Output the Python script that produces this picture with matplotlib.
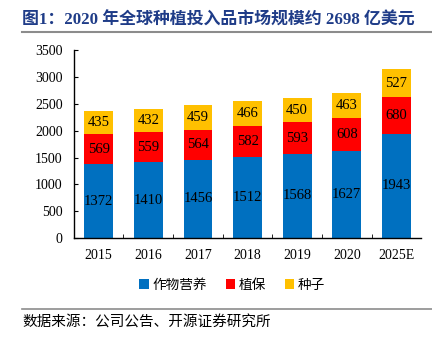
import matplotlib
matplotlib.use("Agg")
import matplotlib.pyplot as plt
from matplotlib.lines import Line2D
import numpy as np

plt.rcParams['font.family'] = ['Liberation Serif', 'Noto Sans CJK SC']

# data
years = ["2015", "2016", "2017", "2018", "2019", "2020", "2025E"]
nutrition = [1372, 1410, 1456, 1512, 1568, 1627, 1943]
protection = [569, 559, 564, 582, 593, 608, 680]
seeds = [435, 432, 459, 466, 450, 463, 527]
series_names = ["作物营养", "植保", "种子"]
colors = ["#0070C0", "#FF0000", "#FFC000"]

fig = plt.figure(figsize=(4.32, 3.4), dpi=100)
ax = fig.add_axes([0.171, 0.30, 0.804, 0.552])

x = np.arange(len(years))
w = 0.58
bottom = np.zeros(len(years))
for vals, name, col in zip([nutrition, protection, seeds], series_names, colors):
    vals = np.array(vals)
    ax.bar(x, vals, w, bottom=bottom, color=col, label=name, edgecolor="none")
    for xi, b, v in zip(x, bottom, vals):
        ax.text(xi, b + v / 2, str(v), ha="center", va="center", fontsize=10.5, color="black")
    bottom = bottom + vals

ax.set_xlim(-0.5, len(years) - 0.5)
ax.set_ylim(0, 3500)
ax.set_yticks(range(0, 3501, 500))
ax.set_xticks(x)
ax.set_xticklabels(years)
ax.set_xticks(np.arange(0.5, len(years) - 1, 1), minor=True)
ax.tick_params(axis="x", which="major", length=0, labelsize=10, pad=8)
ax.tick_params(axis="x", which="minor", direction="in", length=3)
ax.tick_params(axis="y", direction="in", length=3, labelsize=10, pad=8)
for s in ["top", "right"]:
    ax.spines[s].set_visible(False)
for s in ["left", "bottom"]:
    ax.spines[s].set_linewidth(1.0)

ax.legend(loc="center", bbox_to_anchor=(232 / 432, 1 - 285 / 340), bbox_transform=fig.transFigure,
          ncol=3, frameon=False, fontsize=9.8, handlelength=0.7, handleheight=0.7,
          handletextpad=0.25, columnspacing=1.4)

# title and source
fig.text(0.051, 1 - 20 / 340, "图1：2020 年全球种植投入品市场规模约 2698 亿美元",
         fontsize=12.2, fontweight="bold", color="#1F3C88", va="center", ha="left")
fig.add_artist(Line2D([0.051, 1.0], [1 - 32 / 340, 1 - 32 / 340], transform=fig.transFigure,
                      color="#8C8C8C", linewidth=1.5))
fig.add_artist(Line2D([0.051, 1.0], [1 - 309 / 340, 1 - 309 / 340], transform=fig.transFigure,
                      color="#8C8C8C", linewidth=1.2))
fig.text(0.051, 1 - 323 / 340, "数据来源：公司公告、开源证券研究所", fontsize=10.5,
         va="center", ha="left")

fig.savefig("out.png", dpi=100)
